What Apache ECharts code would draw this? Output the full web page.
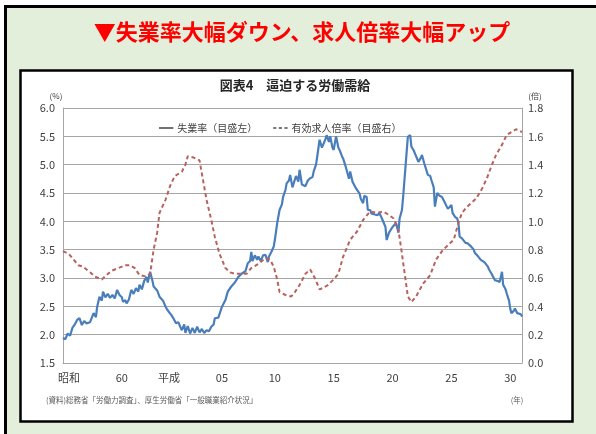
<!DOCTYPE html>
<html>
<head>
<meta charset="utf-8">
<script src="https://cdn.jsdelivr.net/npm/echarts@6/dist/echarts.min.js"></script>
<style>
  html, body { margin: 0; padding: 0; background: #ffffff; }
  #chart { width: 596px; height: 434px; }
</style>
</head>
<body>
<div id="chart"></div>
<script>
// 失業率（%、月次の推移）
const unempYears = [
  1980.0, 1980.2, 1980.4, 1980.6, 1980.8, 1981.0, 1981.2, 1981.4, 1981.6, 1981.8,
  1982.0, 1982.3, 1982.6, 1982.8, 1982.9, 1983.1, 1983.3, 1983.4, 1983.6, 1983.8,
  1984.0, 1984.2, 1984.4, 1984.6, 1984.8, 1985.0, 1985.1, 1985.3, 1985.4, 1985.6,
  1985.8, 1986.0, 1986.2, 1986.4, 1986.5, 1986.7, 1986.9, 1987.1, 1987.2, 1987.4,
  1987.6, 1987.7, 1988.0, 1988.2, 1988.5, 1988.7, 1988.8, 1989.0, 1989.2, 1989.4,
  1989.6, 1989.8, 1990.0, 1990.1, 1990.3, 1990.4, 1990.6, 1990.8, 1991.0, 1991.2,
  1991.4, 1991.6, 1991.8, 1992.0, 1992.2, 1992.4, 1992.6, 1992.8, 1992.9, 1993.2,
  1993.5, 1993.8, 1994.0, 1994.3, 1994.6, 1994.9, 1995.2, 1995.5, 1995.7, 1995.9,
  1996.0, 1996.1, 1996.3, 1996.5, 1996.6, 1996.8, 1997.0, 1997.2, 1997.4, 1997.5,
  1997.7, 1997.9, 1998.0, 1998.2, 1998.4, 1998.6, 1998.7, 1998.9, 1999.0, 1999.2,
  1999.3, 1999.5, 1999.6, 1999.8, 2000.0, 2000.1, 2000.3, 2000.4, 2000.6, 2000.8,
  2001.0, 2001.2, 2001.3, 2001.5, 2001.6, 2001.8, 2002.0, 2002.1, 2002.3, 2002.4,
  2002.6, 2002.7, 2002.9, 2003.0, 2003.2, 2003.3, 2003.4, 2003.5, 2003.7, 2003.8,
  2004.0, 2004.1, 2004.3, 2004.4, 2004.6, 2004.7, 2004.9, 2005.0, 2005.2, 2005.3,
  2005.5, 2005.6, 2005.8, 2005.9, 2006.1, 2006.2, 2006.5, 2006.7, 2006.9, 2007.1,
  2007.2, 2007.4, 2007.5, 2007.7, 2007.8, 2008.0, 2008.1, 2008.3, 2008.5, 2008.6,
  2008.8, 2008.9, 2009.1, 2009.3, 2009.5, 2009.6, 2009.8, 2009.9, 2010.1, 2010.2,
  2010.4, 2010.5, 2010.7, 2010.8, 2011.0, 2011.2, 2011.3, 2011.5, 2011.6, 2011.8,
  2012.0, 2012.2, 2012.4, 2012.5, 2012.7, 2012.8, 2013.0, 2013.1, 2013.3, 2013.5,
  2013.6, 2013.7, 2013.9, 2014.0, 2014.2, 2014.4, 2014.5, 2014.7, 2014.9, 2015.0,
  2015.2, 2015.3, 2015.5, 2015.6, 2015.8, 2015.9, 2016.1, 2016.2, 2016.4, 2016.6,
  2016.7, 2016.9, 2017.1, 2017.3, 2017.4, 2017.6, 2017.7, 2017.9, 2018.0, 2018.1,
  2018.3, 2018.4, 2018.6, 2018.7, 2018.9, 2019.0
];
const unempRates = [
  1.94, 1.92, 2.02, 1.98, 2.12, 2.18, 2.26, 2.29, 2.17, 2.24,
  2.20, 2.22, 2.38, 2.31, 2.49, 2.67, 2.60, 2.76, 2.66, 2.72,
  2.65, 2.70, 2.64, 2.79, 2.70, 2.66, 2.58, 2.61, 2.55, 2.62,
  2.79, 2.72, 2.82, 2.76, 2.88, 2.80, 2.95, 3.02, 2.92, 3.11,
  2.95, 2.85, 2.78, 2.67, 2.60, 2.50, 2.46, 2.40, 2.35, 2.28,
  2.20, 2.22, 2.12, 2.08, 2.18, 2.03, 2.15, 2.02, 2.12, 2.03,
  2.14, 2.04, 2.10, 2.03, 2.08, 2.06, 2.14, 2.18, 2.29, 2.30,
  2.49, 2.61, 2.76, 2.85, 2.92, 3.02, 3.08, 3.12, 3.26, 3.30,
  3.46, 3.30, 3.40, 3.32, 3.38, 3.30, 3.40, 3.41, 3.28, 3.38,
  3.46, 3.55, 3.67, 3.97, 4.20, 4.30, 4.43, 4.55, 4.67, 4.72,
  4.82, 4.60, 4.67, 4.80, 4.70, 4.91, 4.65, 4.67, 4.62, 4.72,
  4.76, 4.78, 4.88, 5.00, 5.14, 5.44, 5.30, 5.35, 5.45, 5.52,
  5.40, 5.50, 5.30, 5.26, 5.50, 5.49, 5.30, 5.26, 5.15, 5.11,
  4.98, 4.96, 4.75, 4.88, 4.70, 4.73, 4.58, 4.61, 4.49, 4.40,
  4.32, 4.45, 4.43, 4.20, 4.20, 4.14, 4.12, 4.11, 4.14, 4.05,
  4.05, 3.90, 3.67, 3.80, 3.82, 3.90, 3.91, 3.97, 3.80, 4.05,
  4.20, 4.43, 4.96, 5.49, 5.52, 5.32, 5.25, 5.20, 5.10, 5.05,
  5.12, 5.17, 5.02, 5.05, 4.82, 4.80, 4.73, 4.60, 4.26, 4.50,
  4.45, 4.43, 4.35, 4.32, 4.22, 4.20, 4.29, 4.15, 4.08, 4.05,
  3.97, 3.73, 3.70, 3.67, 3.62, 3.61, 3.58, 3.55, 3.50, 3.44,
  3.40, 3.38, 3.32, 3.35, 3.28, 3.26, 3.20, 3.15, 3.08, 3.00,
  2.96, 2.95, 2.93, 3.11, 2.88, 2.80, 2.73, 2.60, 2.46, 2.38,
  2.42, 2.46, 2.38, 2.41, 2.36, 2.32
];

// 有効求人倍率（倍）
const ratioYears = [
  1980.0, 1980.5, 1980.9, 1981.3, 1981.7, 1982.3, 1982.7, 1983.3, 1983.7, 1984.1,
  1984.7, 1985.3, 1985.7, 1986.1, 1986.5, 1987.1, 1987.4, 1987.7, 1988.0, 1988.2,
  1988.7, 1989.1, 1989.5, 1990.1, 1990.4, 1990.6, 1991.1, 1991.6, 1991.9, 1992.2,
  1992.6, 1992.9, 1993.3, 1993.8, 1994.2, 1994.6, 1995.2, 1995.6, 1996.0, 1996.6,
  1997.2, 1997.6, 1997.9, 1998.2, 1998.4, 1998.9, 1999.4, 1999.7, 2000.1, 2000.6,
  2001.0, 2001.4, 2001.8, 2002.1, 2002.5, 2003.0, 2003.4, 2003.8, 2004.4, 2005.0,
  2005.5, 2006.1, 2006.7, 2007.2, 2007.6, 2008.1, 2008.5, 2008.8, 2009.1, 2009.3,
  2009.6, 2010.0, 2010.6, 2011.2, 2011.7, 2012.3, 2012.7, 2013.2, 2013.6, 2013.9,
  2014.3, 2014.7, 2015.1, 2015.6, 2016.0, 2016.4, 2016.8, 2017.3, 2017.7, 2018.1,
  2018.5, 2019.0
];
const ratioValues = [
  0.79, 0.77, 0.73, 0.69, 0.68, 0.64, 0.61, 0.59, 0.62, 0.65,
  0.67, 0.69, 0.69, 0.67, 0.62, 0.61, 0.63, 0.80, 0.92, 1.06,
  1.15, 1.25, 1.32, 1.35, 1.40, 1.46, 1.45, 1.43, 1.29, 1.15,
  1.01, 0.89, 0.77, 0.67, 0.64, 0.63, 0.63, 0.63, 0.67, 0.70,
  0.74, 0.73, 0.68, 0.59, 0.50, 0.48, 0.47, 0.50, 0.55, 0.63,
  0.66, 0.60, 0.52, 0.53, 0.55, 0.59, 0.63, 0.75, 0.87, 0.93,
  1.01, 1.07, 1.06, 1.07, 1.05, 1.02, 0.94, 0.77, 0.59, 0.47,
  0.43, 0.47, 0.56, 0.62, 0.73, 0.80, 0.83, 0.87, 0.99, 1.06,
  1.10, 1.13, 1.16, 1.23, 1.30, 1.39, 1.47, 1.54, 1.61, 1.63,
  1.65, 1.63
];

// 横軸の年ラベル（昭和／平成）
const yearTicks = [1980.5, 1985, 1989, 1993.5, 1998, 2003, 2008, 2013, 2018];
const yearTickLabels = ['昭和', '60', '平成', '05', '10', '15', '20', '25', '30'];

const seriesNames = ['失業率（目盛左）', '有効求人倍率（目盛右）'];

const FONT = '"Noto Sans CJK JP", "Noto Sans", sans-serif';
const GRID_COLOR = '#a6a6a6';
const TEXT_COLOR = '#404040';

// 凡例記号：実線と破線
const SOLID_ICON = 'path://M0,0H18V2H0Z';
const DASH_ICON = 'path://M0,0H4V2H0Z M7,0H11V2H7Z M14,0H18V2H14Z';

const chart = echarts.init(document.getElementById('chart'), null, { renderer: 'canvas' });

const labelMap = {};
yearTicks.forEach((y, i) => { labelMap[y.toFixed(1)] = yearTickLabels[i]; });

chart.setOption({
  animation: false,
  textStyle: { fontFamily: FONT },
  graphic: [
    {
      type: 'rect', z: -10, silent: true,
      shape: { x: 5.5, y: 6.5, width: 600, height: 440 },
      style: { fill: '#e3efda', stroke: '#000000', lineWidth: 3 }
    },
    {
      type: 'rect', z: -9, silent: true,
      shape: { x: 20.5, y: 70.5, width: 552, height: 351 },
      style: { fill: '#ffffff', stroke: '#000000', lineWidth: 2.5 }
    },
    {
      type: 'text', silent: true,
      style: {
        x: 302, y: 32, text: '▼失業率大幅ダウン、求人倍率大幅アップ',
        fill: '#ff0000', font: 'bold 22px ' + FONT,
        align: 'center', verticalAlign: 'middle'
      }
    },
    {
      type: 'text', silent: true,
      style: {
        x: 295, y: 85, text: '図表4　逼迫する労働需給',
        fill: '#262626', font: 'bold 13px ' + FONT,
        align: 'center', verticalAlign: 'middle'
      }
    },
    {
      type: 'text', silent: true,
      style: {
        x: 46, y: 400, text: '(資料)総務省「労働力調査」、厚生労働省「一般職業紹介状況」',
        fill: '#595959', font: '7.5px ' + FONT,
        align: 'left', verticalAlign: 'middle'
      }
    },
    {
      type: 'text', silent: true,
      style: {
        x: 517, y: 400, text: '(年)',
        fill: '#595959', font: '7.5px ' + FONT,
        align: 'center', verticalAlign: 'middle'
      }
    }
  ],
  legend: {
    data: [
      { name: seriesNames[0], icon: SOLID_ICON, itemStyle: { color: '#505050' } },
      { name: seriesNames[1], icon: DASH_ICON, itemStyle: { color: '#505050' } }
    ],
    left: 154,
    top: 118,
    itemWidth: 18,
    itemHeight: 1.6,
    itemGap: 16,
    textStyle: { fontSize: 10, color: TEXT_COLOR, fontFamily: FONT, padding: [0, 0, 0, -3] }
  },
  grid: { left: 63, right: 74, top: 108, bottom: 71, containLabel: false },
  xAxis: {
    type: 'value',
    min: 1980,
    max: 2019,
    interval: 0.5,
    axisLine: { show: true, lineStyle: { color: GRID_COLOR, width: 1 } },
    axisTick: { show: false },
    splitLine: { show: false },
    axisLabel: {
      margin: 9,
      fontSize: 11,
      color: TEXT_COLOR,
      fontFamily: FONT,
      formatter: v => labelMap[Number(v).toFixed(1)] || ''
    }
  },
  yAxis: [
    {
      type: 'value',
      min: 1.5, max: 6.0, interval: 0.5,
      name: '(%)',
      nameLocation: 'end',
      nameGap: 8,
      nameTextStyle: { fontSize: 8, color: TEXT_COLOR, align: 'center', padding: [0, 0, 0, -14] },
      axisLine: { show: true, lineStyle: { color: GRID_COLOR, width: 1 } },
      axisTick: { show: false },
      splitLine: { show: true, lineStyle: { color: GRID_COLOR, width: 1 } },
      axisLabel: { margin: 8, fontSize: 11, color: TEXT_COLOR, formatter: v => v.toFixed(1) }
    },
    {
      type: 'value',
      min: 0, max: 1.8, interval: 0.2,
      name: '(倍)',
      nameLocation: 'end',
      nameGap: 8,
      nameTextStyle: { fontSize: 8, color: TEXT_COLOR, align: 'center', padding: [0, 0, 0, 26] },
      axisLine: { show: true, lineStyle: { color: GRID_COLOR, width: 1 } },
      axisTick: { show: false },
      splitLine: { show: false },
      axisLabel: { margin: 6, fontSize: 11, color: TEXT_COLOR, formatter: v => v.toFixed(1) }
    }
  ],
  series: [
    {
      name: seriesNames[0],
      type: 'line',
      yAxisIndex: 0,
      showSymbol: false,
      symbol: 'none',
      lineStyle: { color: '#4a7ebb', width: 2.2 },
      itemStyle: { color: '#4a7ebb' },
      data: unempYears.map((y, i) => [y, unempRates[i]])
    },
    {
      name: seriesNames[1],
      type: 'line',
      yAxisIndex: 1,
      showSymbol: false,
      symbol: 'none',
      lineStyle: { color: '#b9625d', width: 2, type: [4, 3] },
      itemStyle: { color: '#b9625d' },
      data: ratioYears.map((y, i) => [y, ratioValues[i]])
    }
  ]
});
</script>
</body>
</html>
